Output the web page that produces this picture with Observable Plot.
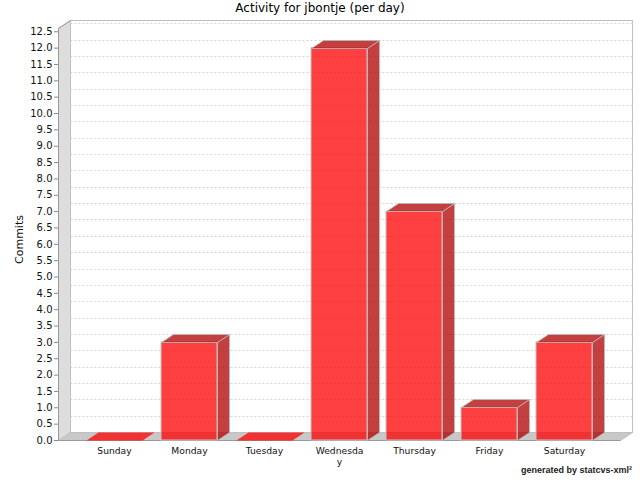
<!DOCTYPE html>
<html><head><meta charset="utf-8">
<script src="https://cdn.jsdelivr.net/npm/d3@7"></script>
<script src="https://cdn.jsdelivr.net/npm/@observablehq/plot@0.6"></script>
<style>
body{margin:0;background:#fff;font-family:"DejaVu Sans",sans-serif;}
#wrap{position:relative;width:640px;height:480px;overflow:hidden;background:#fff}
#title{height:16px;line-height:16px;text-align:center;font-size:12px;color:#000}
#foot{position:absolute;right:8px;top:463px;font-family:"Liberation Sans",Arial,sans-serif;font-size:9px;font-weight:bold;color:#222;line-height:14px}
svg{overflow:visible}
</style></head><body>
<div id="wrap"><div id="title">Activity for jbontje (per day)</div><div id="chart"></div><div id="foot">generated by statcvs-xml²</div></div>
<script>
const days = ["Sunday","Monday","Tuesday","Wednesday","Thursday","Friday","Saturday"];
const commits = [0, 3, 0, 12, 7, 1, 3];
const dayLabels = ["Sunday","Monday","Tuesday","Wednesda\ny","Thursday","Friday","Saturday"];
const yTicks = d3.range(0, 26).map(i => i / 2);
const yMax = 12.6;

const data = days.map((d, i) => ({day: d, commits: commits[i]}));
const DX = 12, DY = 8;

function scene(index, scales, values, dims) {
  const {width, height, marginTop, marginRight, marginBottom, marginLeft} = dims;
  const y = scales.y;
  const x0 = marginLeft + 0.5, x1 = width - marginRight + 0.5, yb = height - marginBottom + 0.5, yt = marginTop + 0.5;
  const g = d3.create("svg:g");
  g.append("rect").attr("x", x0 + DX).attr("y", yt - DY).attr("width", x1 - x0).attr("height", yb - yt)
    .attr("fill", "#fff").attr("stroke", "#c0c0c0");
  g.append("path").attr("d", `M${x0},${yt}L${x0+DX},${yt-DY}L${x0+DX},${yb-DY}L${x0},${yb}Z`)
    .attr("fill", "#dddddd").attr("stroke", "#c0c0c0");
  g.append("path").attr("d", `M${x0},${yb}L${x0+DX},${yb-DY}L${x1+DX},${yb-DY}L${x1},${yb}Z`)
    .attr("fill", "#c8c8c8").attr("stroke", "#c0c0c0");
  g.selectAll("line.grid").data(yTicks.filter(v => v > 0)).join("line").attr("class", "grid")
    .attr("x1", x0 + DX).attr("x2", x1 + DX)
    .attr("y1", v => Math.round(y(v)) - DY + 0.5).attr("y2", v => Math.round(y(v)) - DY + 0.5)
    .attr("stroke", "#d4d4d4").attr("stroke-dasharray", "2,2");
  g.append("path").attr("d", `M${x0+DX},${yt-DY}L${x0},${yt}L${x0},${yb}L${x1},${yb}`)
    .attr("fill", "none").attr("stroke", "#999");
  return g.node();
}

function bars3d(index, scales, values, dims) {
  const {x, y} = scales;
  const bw = x.bandwidth();
  const y0 = Math.round(y(0));
  const g = d3.create("svg:g");
  data.forEach(d => {
    const xl = Math.round(x(d.day)) + 0.5, xr = xl + Math.round(bw), yt = Math.round(y(d.commits)) + 0.5;
    if (d.commits > 0) {
      g.append("path").attr("d", `M${xr},${yt}L${xr+DX},${yt-DY}L${xr+DX},${y0-DY+0.5}L${xr},${y0+0.5}Z`)
        .attr("fill", "#b00000").attr("fill-opacity", 0.75).attr("stroke", "#bbbbbb").attr("stroke-width", 0.8);
    }
    g.append("path").attr("d", `M${xl},${yt}L${xl+DX},${yt-DY}L${xr+DX},${yt-DY}L${xr},${yt}Z`)
      .attr("fill", d.commits > 0 ? "#b00000" : "#ff0000").attr("fill-opacity", 0.75)
      .attr("stroke", d.commits > 0 ? "#bbbbbb" : "none").attr("stroke-width", 0.8);
  });
  return g.node();
}

const chart = Plot.plot({
  width: 640,
  height: 448,
  marginTop: 12,
  marginBottom: 24,
  marginLeft: 58,
  marginRight: 20,
  style: {fontFamily: "DejaVu Sans", fontSize: "10px", background: "transparent"},
  x: {type: "band", domain: days, paddingInner: 0.253, paddingOuter: 0.373, axis: null, label: null},
  y: {domain: [0, yMax], axis: null, label: null},
  marks: [
    scene,
    Plot.barY(data, {x: "day", y: "commits", fill: "#ff0000", fillOpacity: 0.75, stroke: "#c4c4c4", strokeWidth: 1}),
    bars3d,
    Plot.axisY({ticks: yTicks, tickFormat: d3.format(".1f"), tickSize: 4, tickPadding: 2, stroke: "#888", fill: "#111", fontSize: 10, label: null}),
    Plot.axisX({tickSize: 0, tickPadding: 5, tickFormat: d => dayLabels[days.indexOf(d)], fill: "#111", fontSize: 9.2, lineHeight: 1.25, label: null}),
    Plot.text(["Commits"], {frameAnchor: "left", rotate: -90, dx: -39, dy: 5, fontSize: 11, textAnchor: "middle", fill: "#111"})
  ]
});
document.getElementById("chart").appendChild(chart);
</script>
</body></html>
